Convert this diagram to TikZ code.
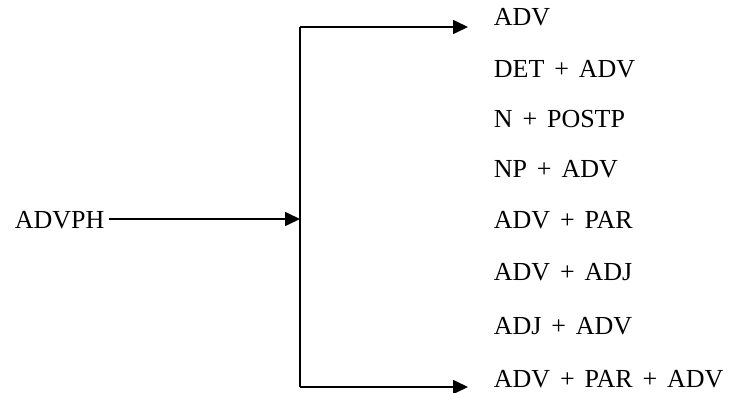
\documentclass[tikz,border=0pt]{standalone}
\usepackage{fontspec}
\setmainfont{Liberation Serif}
\usepackage{tikz}
\usetikzlibrary{arrows.meta}

\begin{document}
\begin{tikzpicture}[x=1pt,y=-1pt,line width=1.7pt,>={Triangle[length=15pt,width=14pt]}]
  \tikzstyle{every node}=[inner sep=0pt,anchor=base west,font=\fontsize{26}{30}\selectfont,
    execute at begin node={\spaceskip=.38em\relax}]
  \useasboundingbox (0,0) rectangle (729,393);

  \node[inner xsep=4pt] (advph) at (10,229) {ADVPH};
  \coordinate (hub) at (300,219);
  \coordinate (top) at (300,27);
  \coordinate (bot) at (300,387);

  % right hand side alternatives
  \node (adv)       at (493,26)  {ADV};
  \node (detadv)    at (493,78)  {DET + ADV};
  \node (npostp)    at (493,128) {N + POSTP};
  \node (npadv)     at (493,178) {NP + ADV};
  \node (advpar)    at (493,229) {ADV + PAR};
  \node (advadj)    at (493,280) {ADV + ADJ};
  \node (adjadv)    at (493,334) {ADJ + ADV};
  \node (advparadv) at (493,387) {ADV + PAR + ADV};

  \draw[->] (advph.east |- hub) -- (hub);
  \draw (top) -- (bot);
  \draw[->,shorten >=25pt] (top) -- (top -| adv.west);
  \draw[->,shorten >=25pt] (bot) -- (bot -| advparadv.west);
\end{tikzpicture}
\end{document}
